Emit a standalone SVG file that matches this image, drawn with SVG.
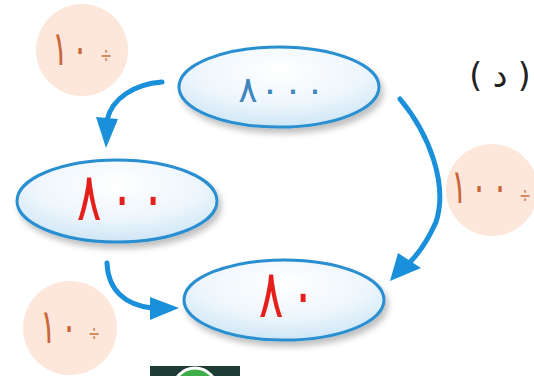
<svg xmlns="http://www.w3.org/2000/svg" width="534" height="376" viewBox="0 0 534 376">
<defs>
<radialGradient id="eg" cx="0.5" cy="0.3" r="0.75">
<stop offset="0" stop-color="#ffffff"/>
<stop offset="0.55" stop-color="#eef6fc"/>
<stop offset="1" stop-color="#c9e3f5"/>
</radialGradient>
<filter id="sh" x="-20%" y="-20%" width="140%" height="150%">
<feGaussianBlur in="SourceAlpha" stdDeviation="3"/>
<feOffset dx="3" dy="5"/>
<feComponentTransfer><feFuncA type="linear" slope="0.25"/></feComponentTransfer>
<feMerge><feMergeNode/><feMergeNode in="SourceGraphic"/></feMerge>
</filter>
<clipPath id="clipb"><rect x="150" y="366" width="90" height="10"/></clipPath>
</defs>
<style>
.ell{fill:url(#eg);stroke:#2a8fd0;stroke-width:3;filter:url(#sh)}
.circ{fill:#fde6da}
.op{font-family:"DejaVu Sans","Noto Sans",sans-serif;font-size:30px;fill:#c8663a}
.div{font-size:14px;fill:#d28a62}
.blue{font-family:"DejaVu Sans","Noto Sans",sans-serif;font-size:36px;fill:#3f86bd}
.red{font-family:"DejaVu Sans","Noto Sans",sans-serif;font-size:46px;fill:#e5201c}
.conn{fill:none;stroke:#1a90da;stroke-width:5;stroke-linecap:round}
.head{fill:#1a90da}
</style>
<rect width="534" height="376" fill="#ffffff"/>

<g id="op1"><circle class="circ" cx="82" cy="50" r="46"/><text class="op" transform="translate(0,65) scale(1,1.6)" x="60 80" y="0" text-anchor="middle">١٠<tspan class="div" x="106" y="-1">÷</tspan></text></g>
<g id="op2"><circle class="circ" cx="492" cy="190" r="46"/><text class="op" transform="translate(0,203) scale(1,1.6)" x="459 479 500" y="0" text-anchor="middle">١٠٠<tspan class="div" x="525" y="0">÷</tspan></text></g>
<g id="op3"><circle class="circ" cx="70" cy="328" r="47"/><text class="op" transform="translate(0,343) scale(1,1.6)" x="48 69" y="0" text-anchor="middle">١٠<tspan class="div" x="94" y="-1">÷</tspan></text></g>

<g id="label"><text x="500" y="87" text-anchor="middle" font-family="DejaVu Sans, sans-serif" font-size="33" fill="#222">( د )</text></g>

<g id="n8000"><ellipse class="ell" cx="279" cy="87" rx="100" ry="40"/><text class="blue" x="248 270 293 315" y="102" text-anchor="middle">٨٠٠٠</text></g>
<g id="n800"><ellipse class="ell" cx="117" cy="201" rx="100" ry="41"/><text class="red" transform="translate(0,220) scale(1,1.45)" x="89 122 153" y="0" text-anchor="middle">٨٠٠</text></g>
<g id="n80"><ellipse class="ell" cx="284" cy="300" rx="100" ry="40"/><text class="red" transform="translate(0,317) scale(1,1.45)" x="271 303" y="0" text-anchor="middle">٨٠</text></g>

<g id="connectors">
<path class="conn" d="M162 82 C135 84 112 98 107 120"/>
<polygon class="head" points="96,117 118,119 106,148"/>
<path class="conn" d="M400 99 C430 135 448 185 436 222 C428 240 420 252 410 262"/>
<polygon class="head" points="398,253 421,268 390,281"/>
<path class="conn" d="M107 263 C108 290 125 305 152 308"/>
<polygon class="head" points="150,297 150,320 179,308"/>
</g>

<g id="footer">
<rect x="150" y="366" width="90" height="10" fill="#1f3b36"/>
<g clip-path="url(#clipb)"><circle cx="195" cy="390" r="22" fill="#3fae49" stroke="#ffffff" stroke-width="3"/></g>
</g>
</svg>
